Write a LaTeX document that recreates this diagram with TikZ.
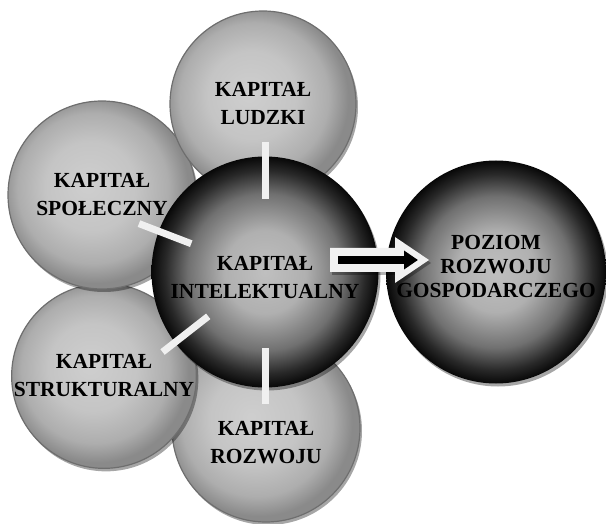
\documentclass[tikz,border=0pt]{standalone}
\usepackage{fontspec}
\setmainfont{Liberation Serif}
\usetikzlibrary{shapes.geometric,shadows,arrows.meta,calc}
\definecolor{rimgray}{HTML}{6E6E6E}
\pgfdeclareradialshading{litesphere}{\pgfpoint{-4bp}{3bp}}{%
  color(0bp)=(black!19); color(12bp)=(black!23); color(20bp)=(black!32);
  color(25bp)=(black!46); color(50bp)=(black!46)}
\pgfdeclareradialshading{darksphere}{\pgfpoint{0bp}{0bp}}{%
  color(0bp)=(black!25); color(9bp)=(black!31); color(17bp)=(black!56);
  color(22bp)=(black!84); color(25bp)=(black!97); color(50bp)=(black!97)}
\tikzset{
  caption/.style={
    font=\bfseries\fontsize{21.5}{28}\selectfont,
    align=center,
    inner sep=0pt
  },
  satellite/.style={
    circle,
    draw=rimgray,
    line width=1.2pt,
    shading=litesphere,
    inner sep=0pt,
    caption,
    drop shadow={shadow xshift=2pt,shadow yshift=-3pt,fill=black,opacity=.35}
  },
  hub/.style={
    ellipse,
    shading=darksphere,
    inner sep=0pt,
    drop shadow={shadow xshift=2pt,shadow yshift=-3pt,fill=black,opacity=.35}
  },
  spoke/.style={draw=white!94!black,line width=7pt},
  wide arrow/.style={
    fill=white!95!black,
    drop shadow={shadow xshift=2pt,shadow yshift=-3pt,fill=black,opacity=.3}
  },
  thin arrow/.style={line width=8pt,-{Triangle[length=14pt,width=18pt]}}
}

\begin{document}
\begin{tikzpicture}[x=1pt,y=-1pt]
  \useasboundingbox (0,0) rectangle (606,524);
  \node[satellite,minimum size=188] (roz) at (266,428) {};
  \node[caption] (rozT) at ([yshift=-15]roz.center) {KAPITAŁ\\ROZWOJU};
  \node[satellite,minimum size=184] (str) at (104,376) {KAPITAŁ\\STRUKTURALNY};
  \node[satellite,minimum size=188] (spo) at (102,195) {KAPITAŁ\\SPOŁECZNY};
  \node[satellite,minimum size=186] (lud) at (263,104) {KAPITAŁ\\LUDZKI};
  \node[hub,minimum width=227,minimum height=231] (ic) at (265,272) {};
  \node[caption] (icT) at ([yshift=-6]ic.center) {KAPITAŁ\\INTELEKTUALNY};
  \node[hub,minimum width=220,minimum height=223] (poz) at (496,272) {};
  \node[caption,font=\bfseries\fontsize{21.5}{24}\selectfont] (pozT)
    at ([yshift=6]poz.center) {POZIOM\\ROZWOJU\\GOSPODARCZEGO};

  \draw[spoke] ($(ic)+(270:73)$) -- ($(ic)+(270:130)$);
  \draw[spoke] ($(ic)+(201:79)$) -- ($(ic)+(201:135)$);
  \draw[spoke] ($(ic)+(142:72)$) -- ($(ic)+(142:130)$);
  \draw[spoke] ($(ic)+(90:76)$) -- ($(ic)+(90:132)$);

  \coordinate (tail) at ($(ic)+(65,-12)$);
  \path[wide arrow] (tail) ++(0,-12) -- ++(65,0) -- ++(0,-11) -- ++(34,23)
    -- ++(-34,23) -- ++(0,-11) -- ++(-65,0) -- cycle;
  \draw[thin arrow] ($(tail)+(8,0)$) -- ($(tail)+(88,0)$);
\end{tikzpicture}
\end{document}
